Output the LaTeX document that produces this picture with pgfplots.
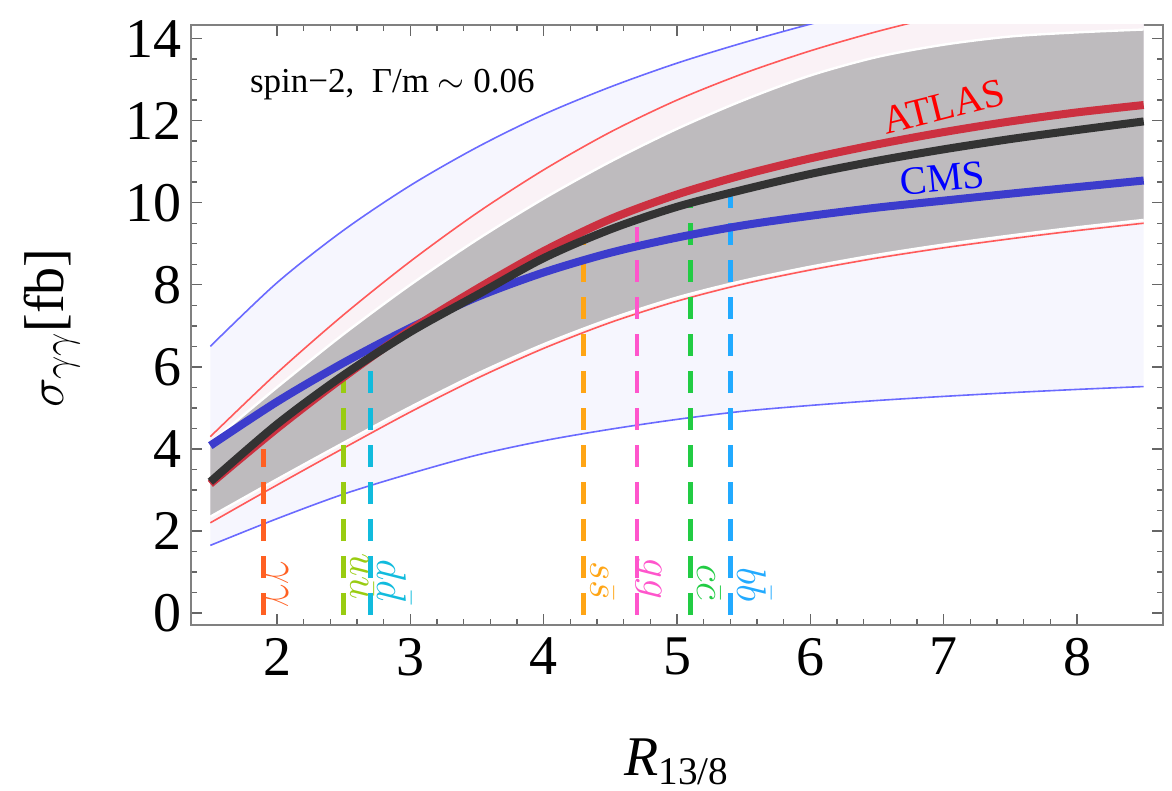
\documentclass[border=0pt]{standalone}
\usepackage{fontspec}
\setmainfont{Liberation Serif}
\usepackage{pgfplots}
\pgfplotsset{compat=1.18}
\usepgfplotslibrary{fillbetween}
\usepackage{pgfplotstable}

\definecolor{lav}{HTML}{F6F6FE}
\definecolor{pinkband}{HTML}{FAF2F6}
\definecolor{grayband}{HTML}{BEBBBE}
\definecolor{thinred}{HTML}{FF5A5A}
\definecolor{thinblue}{HTML}{6A6AFF}
\definecolor{atlasred}{HTML}{CC3040}
\definecolor{cmsblue}{HTML}{3C3CCC}
\definecolor{combblack}{HTML}{333333}
\definecolor{cgg}{HTML}{FF6022}
\definecolor{cuu}{HTML}{99CC11}
\definecolor{cdd}{HTML}{11BBDD}
\definecolor{css}{HTML}{FFA515}
\definecolor{cglu}{HTML}{FF55CC}
\definecolor{ccc}{HTML}{22CC44}
\definecolor{cbb}{HTML}{22AAFF}

\pgfplotstableread{
x   bu    ru    gu    gl    rl    bl    cms   atlas comb
1.5 6.50  4.30  4.15  2.35  2.20  1.65  4.08  3.15  3.20
2.0 8.05  5.85  5.50  3.26  3.12  2.30  5.15  4.50  4.60
2.5 9.33  7.27  6.80  4.15  4.02  2.90  6.10  5.75  5.80
3.0 10.42 8.57  8.00  5.02  4.90  3.40  6.95  6.90  6.85
3.5 11.35 9.75  9.10  5.83  5.72  3.85  7.70  7.90  7.75
4.0 12.15 10.80 10.10 6.55  6.45  4.20  8.30  8.82  8.65
4.5 12.82 11.72 11.00 7.17  7.08  4.48  8.78  9.60  9.35
5.0 13.40 12.50 11.80 7.69  7.60  4.72  9.15  10.20 9.90
5.5 13.90 13.15 12.50 8.10  8.02  4.92  9.45  10.68 10.32
6.0 14.35 13.70 13.10 8.44  8.36  5.06  9.68  11.08 10.70
6.5 14.75 14.17 13.55 8.73  8.65  5.18  9.88  11.42 11.02
7.0 15.10 14.57 13.85 8.98  8.90  5.28  10.05 11.72 11.30
7.5 15.42 14.92 14.05 9.20  9.12  5.37  10.22 11.98 11.55
8.0 15.70 15.22 14.15 9.40  9.32  5.45  10.38 12.20 11.77
8.5 15.95 15.50 14.22 9.58  9.50  5.52  10.54 12.38 11.98
}\data

\begin{document}
\begin{tikzpicture}
\begin{axis}[
  scale only axis,
  width=486pt, height=300pt,
  xmin=1.355, xmax=8.645,
  ymin=-0.29, ymax=14.33,
  xtick={2,3,4,5,6,7,8},
  ytick={0,2,4,6,8,10,12,14},
  minor x tick num=4,
  minor y tick num=3,
  tick align=inside,
  major tick length=5.5pt,
  minor tick length=3pt,
  every tick/.style={color=black!60, line width=0.7pt},
  axis line style={color=black!50, line width=1pt},
  xtick pos=both, ytick pos=both,
  xticklabel pos=lower, yticklabel pos=left,
  tick label style={font=\fontsize{28}{30}\selectfont},
  /pgf/number format/assume math mode=true,
  xticklabel style={yshift=-3pt},
  yticklabel style={xshift=-1pt},
  xlabel={\textit{R}\textsubscript{13/8}},
  xlabel style={font=\fontsize{28}{30}\selectfont, at={(axis description cs:0.5,0)}, anchor=base, yshift=-75.5pt},
  ylabel={$\sigma_{\gamma\gamma}$[fb]},
  ylabel style={font=\fontsize{28}{30}\selectfont, at={(axis description cs:-0.143,0.495)}, anchor=center},
  clip=true,
]
% band boundaries
\addplot[draw=none, smooth, name path=BU] table[x=x,y=bu]{\data};
\addplot[draw=none, smooth, name path=BL] table[x=x,y=bl]{\data};
\addplot[draw=none, smooth, name path=RU] table[x=x,y=ru]{\data};
\addplot[draw=none, smooth, name path=RL] table[x=x,y=rl]{\data};
\addplot[draw=none, smooth, name path=GU] table[x=x,y=gu]{\data};
\addplot[draw=none, smooth, name path=GL] table[x=x,y=gl]{\data};
% fills
\addplot[lav] fill between[of=BU and BL];
\addplot[pinkband] fill between[of=RU and RL];
\addplot[grayband] fill between[of=GU and GL];
% white edges of the gray band
\addplot[white, line width=1.2pt, smooth] table[x=x,y=gu]{\data};
\addplot[white, line width=1.2pt, smooth] table[x=x,y=gl]{\data};
% thin band lines
\addplot[thinblue, line width=0.8pt, smooth] table[x=x,y=bu]{\data};
\addplot[thinblue, line width=0.8pt, smooth] table[x=x,y=bl]{\data};
\addplot[thinred, line width=0.8pt, smooth] table[x=x,y=ru]{\data};
\addplot[thinred, line width=0.8pt, smooth] table[x=x,y=rl]{\data};
% dashed lines
\addplot[cgg, line width=2.2pt, dash pattern=on 11pt off 7.5pt] coordinates {(1.9,-0.05) (1.9,4.0)};
\addplot[cuu, line width=2.2pt, dash pattern=on 11pt off 7.5pt] coordinates {(2.5,-0.05) (2.5,5.8)};
\addplot[cdd, line width=2.2pt, dash pattern=on 11pt off 7.5pt] coordinates {(2.7,-0.05) (2.7,6.34)};
\addplot[css, line width=2.2pt, dash pattern=on 11pt off 7.5pt] coordinates {(4.3,-0.05) (4.3,9.1)};
\addplot[cglu, line width=2.2pt, dash pattern=on 11pt off 7.5pt] coordinates {(4.7,-0.05) (4.7,9.4)};
\addplot[ccc, line width=2.2pt, dash pattern=on 11pt off 7.5pt] coordinates {(5.1,-0.05) (5.1,10.0)};
\addplot[cbb, line width=2.2pt, dash pattern=on 11pt off 7.5pt] coordinates {(5.4,-0.05) (5.4,10.25)};
% thick curves
\addplot[cmsblue, line width=4pt, smooth] table[x=x,y=cms]{\data};
\addplot[atlasred, line width=4pt, smooth] table[x=x,y=atlas]{\data};
\addplot[combblack, line width=4pt, smooth] table[x=x,y=comb]{\data};
% labels
\node[anchor=base west, font=\fontsize{17.5}{20}\selectfont] at (axis cs:1.745,12.68) {spin−2,\ \ Γ/m $\sim$ 0.06};
\node[red, rotate=14, font=\fontsize{20}{22}\selectfont] at (axis cs:7.0,12.34) {ATLAS};
\node[blue, rotate=5.5, font=\fontsize{20}{22}\selectfont] at (axis cs:6.99,10.6) {CMS};
\node[cgg, rotate=-90, anchor=base east, font=\fontsize{20}{22}\selectfont] at (axis cs:1.95,-0.05) {$\gamma\gamma$};
\node[cuu, rotate=-90, anchor=base east, font=\fontsize{20}{22}\selectfont] at (axis cs:2.55,0.15) {$u\bar{u}$};
\node[cdd, rotate=-90, anchor=base east, font=\fontsize{20}{22}\selectfont] at (axis cs:2.75,0.1) {$d\bar{d}$};
\node[css, rotate=-90, anchor=base east, font=\fontsize{20}{22}\selectfont] at (axis cs:4.35,0.15) {$s\bar{s}$};
\node[cglu, rotate=-90, anchor=base east, font=\fontsize{20}{22}\selectfont] at (axis cs:4.75,0.15) {$gg$};
\node[ccc, rotate=-90, anchor=base east, font=\fontsize{20}{22}\selectfont] at (axis cs:5.15,0.15) {$c\bar{c}$};
\node[cbb, rotate=-90, anchor=base east, font=\fontsize{20}{22}\selectfont] at (axis cs:5.45,0.1) {$b\bar{b}$};
\end{axis}
\pgfresetboundingbox
\path[use as bounding box] (-95.5pt,-83pt) rectangle (490.5pt,312.5pt);
\end{tikzpicture}
\end{document}
